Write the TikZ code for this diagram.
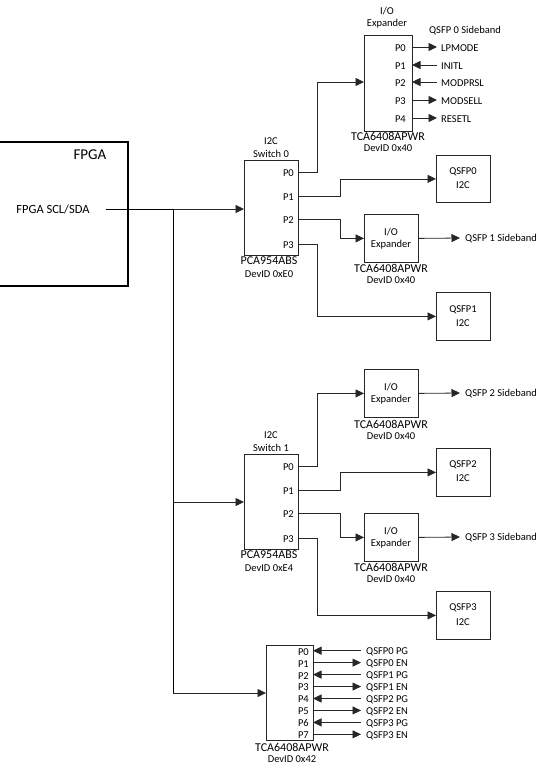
\documentclass[tikz,border=0pt]{standalone}
\usepackage{fontspec}
\setmainfont{Carlito}
\usetikzlibrary{arrows.meta}
\begin{document}
\begin{tikzpicture}[x=1pt,y=-1pt,
  box/.style={draw=black!85,line width=0.8pt,inner sep=0pt,anchor=north west},
  txt/.style={inner sep=0pt,font=\fontsize{10.5}{12}\selectfont},
  bigtxt/.style={inner sep=0pt,font=\fontsize{12}{14}\selectfont},
  wire/.style={draw=black!85,line width=0.8pt},
  arr/.style={wire,-{Triangle[length=8.5pt,width=8pt]}},
]
\useasboundingbox (0,0) rectangle (544,771);

% ---------- FPGA ----------
\draw[line width=1.6pt] (0,142) -- (128,142) -- (128,286) -- (0,286);
\node[inner sep=0pt,font=\fontsize{15}{17}\selectfont] (fpgalbl) at (90,155) {FPGA};
\node[inner sep=0pt,font=\fontsize{12.5}{14}\selectfont] (fpgasig) at (53,209) {FPGA SCL/SDA};
\coordinate (fpgaout) at (106,209);

% ---------- Switch 0 ----------
\node[box,minimum width=54pt,minimum height=95pt] (sw0) at (244,160) {};
\node[txt] (sw0t1) at (271,141) {I2C};
\node[txt] (sw0t2) at (271,154) {Switch 0};
\node[bigtxt] (sw0b1) at (269,261) {PCA954ABS};
\node[txt] (sw0b2) at (269,274) {DevID 0xE0};
\foreach \n/\y in {0/172,1/196,2/219.5,3/244}{
  \coordinate (sw0p\n) at (298,\y);
  \node[txt,anchor=east] (sw0l\n) at (294,\y+1) {P\n};
}

% ---------- Switch 1 ----------
\node[box,minimum width=54pt,minimum height=95pt] (sw1) at (244,454) {};
\node[txt] (sw1t1) at (271,435) {I2C};
\node[txt] (sw1t2) at (271,448) {Switch 1};
\node[bigtxt] (sw1b1) at (269,555) {PCA954ABS};
\node[txt] (sw1b2) at (269,568) {DevID 0xE4};
\foreach \n/\y in {0/466,1/490,2/513.5,3/538}{
  \coordinate (sw1p\n) at (298,\y);
  \node[txt,anchor=east] (sw1l\n) at (294,\y+1) {P\n};
}

% ---------- Top expander (QSFP 0 sideband) ----------
\node[box,minimum width=48pt,minimum height=96pt] (ex0) at (364,35) {};
\node[txt] (ex0t1) at (387,11) {I/O};
\node[txt] (ex0t2) at (387,24) {Expander};
\node[bigtxt] (ex0b1) at (388,136) {TCA6408APWR};
\node[txt] (ex0b2) at (388,148) {DevID 0x40};
\node[txt] (sb0) at (465,31) {QSFP 0 Sideband};
\coordinate (ex0in) at (364,82);
\foreach \n/\y/\t in {0/47/LPMODE,1/65/INITL,2/82/MODPRSL,3/100/MODSELL,4/118/RESETL}{
  \coordinate (ex0p\n) at (412,\y);
  \coordinate (ex0e\n) at (437,\y);
  \node[txt,anchor=east] (ex0l\n) at (406,\y+1) {P\n};
  \node[txt,anchor=west] (ex0s\n) at (441,\y+1) {\t};
}
\draw[arr] (ex0p0) -- (ex0e0);
\draw[arr] (ex0e1) -- (ex0p1);
\draw[arr] (ex0e2) -- (ex0p2);
\draw[arr] (ex0p3) -- (ex0e3);
\draw[arr] (ex0p4) -- (ex0e4);

% ---------- QSFP0 / expander 1 / QSFP1 ----------
\node[box,minimum width=54pt,minimum height=47pt] (q0) at (436,155) {};
\node[txt] (q0t1) at (463,172) {QSFP0};
\node[txt] (q0t2) at (463,185) {I2C};

\node[box,minimum width=54pt,minimum height=48pt] (ex1) at (364,214) {};
\node[txt] (ex1t1) at (391,232) {I/O};
\node[txt] (ex1t2) at (391,245) {Expander};
\node[bigtxt] (ex1b1) at (391,268) {TCA6408APWR};
\node[txt] (ex1b2) at (391,280) {DevID 0x40};
\node[txt,anchor=west] (sb1) at (465,239) {QSFP 1 Sideband};

\node[box,minimum width=54pt,minimum height=48pt] (q1) at (436,292) {};
\node[txt] (q1t1) at (463,310) {QSFP1};
\node[txt] (q1t2) at (463,323) {I2C};

% ---------- expander 2 / QSFP2 / expander 3 / QSFP3 ----------
\node[box,minimum width=54pt,minimum height=48pt] (ex2) at (364,369) {};
\node[txt] (ex2t1) at (391,387) {I/O};
\node[txt] (ex2t2) at (391,400) {Expander};
\node[bigtxt] (ex2b1) at (391,424) {TCA6408APWR};
\node[txt] (ex2b2) at (391,436) {DevID 0x40};
\node[txt,anchor=west] (sb2) at (465,394) {QSFP 2 Sideband};

\node[box,minimum width=54pt,minimum height=48pt] (q2) at (436,448) {};
\node[txt] (q2t1) at (463,465) {QSFP2};
\node[txt] (q2t2) at (463,478) {I2C};

\node[box,minimum width=54pt,minimum height=48pt] (ex3) at (364,513) {};
\node[txt] (ex3t1) at (391,531) {I/O};
\node[txt] (ex3t2) at (391,544) {Expander};
\node[bigtxt] (ex3b1) at (391,567) {TCA6408APWR};
\node[txt] (ex3b2) at (391,579) {DevID 0x40};
\node[txt,anchor=west] (sb3) at (465,538) {QSFP 3 Sideband};

\node[box,minimum width=54pt,minimum height=48pt] (q3) at (436,591) {};
\node[txt] (q3t1) at (463,608) {QSFP3};
\node[txt] (q3t2) at (463,622) {I2C};

% ---------- bottom expander ----------
\node[box,minimum width=47pt,minimum height=95pt] (tca) at (266,645) {};
\node[bigtxt] (tcab1) at (292,747) {TCA6408APWR};
\node[txt] (tcab2) at (292,759) {DevID 0x42};
\foreach \n/\t in {0/QSFP0 PG,1/QSFP0 EN,2/QSFP1 PG,3/QSFP1 EN,4/QSFP2 PG,5/QSFP2 EN,6/QSFP3 PG,7/QSFP3 EN}{
  \coordinate (tp\n) at (313,{650.7+11.95*\n});
  \coordinate (te\n) at (361,{650.7+11.95*\n});
  \node[txt,anchor=east] (tl\n) at (309,{651.7+11.95*\n}) {P\n};
  \node[txt,anchor=west] (ts\n) at (366,{651.7+11.95*\n}) {\t};
}
\foreach \n in {0,2,4,6}{\draw[arr] (te\n) -- (tp\n);}
\foreach \n in {1,3,5,7}{\draw[arr] (tp\n) -- (te\n);}

% ---------- bus ----------
\coordinate (j1) at (173,209);
\coordinate (j2) at (173,502);
\coordinate (j3) at (173,693);
\draw[wire,draw=black] (fpgaout) -- (j1);
\draw[arr] (j1) -- (sw0.west |- j1);
\draw[wire,draw=black] (j1) -- (j3);
\draw[arr] (j2) -- (sw1.west |- j2);
\draw[arr] (j3) -- (tca.west |- j3);

% ---------- switch 0 routes ----------
\draw[arr] (sw0p0) -- (317,172) |- (ex0in);
\draw[arr] (sw0p1) -- (340,196) |- (q0.west);
\draw[arr] (sw0p2) -- (340,219.5) |- (ex1.west);
\draw[arr] (sw0p3) -- (317,244) |- (q1.west);
\draw[arr] (ex1.east) -- (460,238);

% ---------- switch 1 routes ----------
\draw[arr] (sw1p0) -- (317,466) |- (ex2.west);
\draw[arr] (sw1p1) -- (340,490) |- (q2.west);
\draw[arr] (sw1p2) -- (340,513.5) |- (ex3.west);
\draw[arr] (sw1p3) -- (317,538) |- (q3.west);
\draw[arr] (ex2.east) -- (460,393);
\draw[arr] (ex3.east) -- (460,537);
\end{tikzpicture}
\end{document}
